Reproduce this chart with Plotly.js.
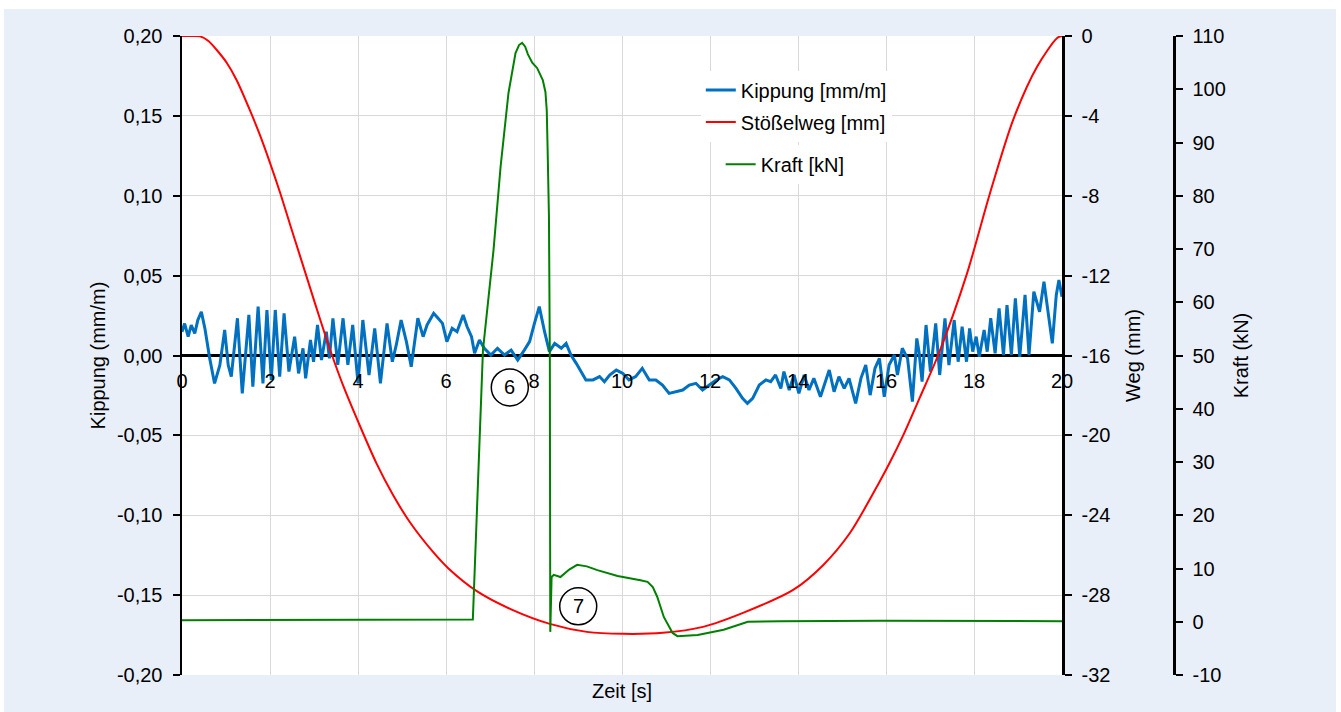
<!DOCTYPE html>
<html><head><meta charset="utf-8">
<script src="https://cdn.plot.ly/plotly-3.0.1.min.js"></script>
<style>html,body{margin:0;padding:0;background:#fff;} #chart{position:absolute;left:4px;top:9px;width:1332px;height:703px;}</style>
</head><body><div id="chart"></div>
<script>
// Zeit [s] / Kippung [mm/m]
const kippungT = [0,0.06,0.14,0.21,0.29,0.36,0.44,0.52,0.63,0.74,0.86,0.97,1.05,1.12,1.26,1.37,1.52,1.61,1.73,1.84,1.93,2.03,2.12,2.22,2.32,2.43,2.56,2.65,2.75,2.81,2.92,2.99,3.08,3.17,3.28,
3.35,3.43,3.54,3.66,3.77,3.88,4.00,4.11,4.25,4.38,4.51,4.66,4.78,4.87,4.98,5.10,5.21,5.36,5.48,5.57,5.72,5.82,5.92,6.02,6.14,6.25,6.39,6.48,6.58,6.65,
6.76,6.87,7.02,7.17,7.33,7.48,7.63,7.78,7.90,8.01,8.12,8.24,8.35,8.47,8.62,8.73,8.84,8.96,9.07,9.18,9.34,9.49,9.60,9.72,9.87,10.02,
10.16,10.31,10.46,10.62,10.77,10.92,11.07,11.23,11.38,11.53,11.68,11.83,11.98,12.14,12.29,12.44,12.59,12.74,12.85,12.97,13.12,13.27,
13.38,13.49,13.61,13.68,13.80,13.91,14.02,14.14,14.25,14.36,14.51,14.71,14.82,14.93,15.05,15.16,15.31,15.43,15.54,15.64,15.75,15.85,15.96,16.07,16.19,16.26,16.37,16.49,16.60,16.70,
16.75,16.82,16.91,17.01,17.13,17.22,17.34,17.43,17.55,17.64,17.73,17.83,17.90,17.97,18.05,18.12,18.23,18.30,18.38,18.48,18.57,18.67,18.75,18.85,18.94,19.04,19.16,19.25,19.36,19.49,19.59,19.69,19.78,19.87,19.93,20.0];
const kippungV = [0.0149,0.020,0.0118,0.019,0.0139,0.0222,0.0274,0.017,-0.0018,-0.0175,-0.006,0.016,-0.006,-0.0132,0.0233,-0.0237,0.0254,-0.0195,0.0306,-0.0174,0.0285,-0.0153,0.0285,-0.0132,0.0264,-0.0101,0.0118,-0.0112,0.0045,-0.0143,0.0097,-0.0039,0.0191,-0.0028,0.0149,
-0.0018,0.0233,-0.0059,0.0233,-0.0059,0.0191,-0.0174,0.0222,-0.0122,0.017,-0.0174,0.0201,-0.0039,0.0066,0.0222,0.0087,-0.007,0.0233,0.0118,0.0191,0.0264,0.0233,0.0201,0.0087,0.017,0.0149,0.0254,0.018,0.0118,0.0014,
0.0097,0.0045,0.0003,0.0045,0.0003,0.0034,-0.0028,0.0034,0.0087,0.0201,0.0306,0.0149,0.0024,0.0076,0.0045,0.0076,0.0003,-0.0049,-0.0101,-0.0153,-0.0153,-0.0132,-0.0164,-0.0122,-0.0091,-0.0112,
-0.0153,-0.0132,-0.008,-0.0153,-0.0153,-0.0185,-0.0237,-0.0227,-0.0216,-0.0185,-0.0174,-0.0216,-0.0185,-0.0153,-0.0132,-0.0153,-0.0206,-0.0268,-0.03,-0.0268,-0.0185,-0.0153,
-0.0164,-0.0122,-0.0206,-0.0101,-0.0216,-0.0122,-0.0237,-0.0122,-0.0216,-0.0143,-0.0258,-0.0091,-0.0227,-0.0132,-0.0206,-0.0143,-0.03,-0.0143,-0.006,-0.0248,-0.008,-0.0018,-0.0258,-0.006,0.0003,-0.0122,0.0045,-0.0018,-0.0289,0.0107,
0.0024,-0.0164,0.0191,-0.0101,0.0201,-0.0122,0.0233,-0.006,0.0222,-0.0039,0.018,-0.0039,0.017,0.0024,0.0118,-0.0008,0.016,0.0024,0.0233,0.0013,0.0295,0.0003,0.0316,0.0003,0.0358,-0.0008,0.0379,0.0003,0.04,0.0274,0.0462,0.0274,0.0076,0.0379,0.0473,0.0368];

// Stößelweg [mm]
const wegT = [0,0.2,0.41,0.6,0.79,1.02,1.24,1.55,1.77,2.0,2.23,2.45,2.68,2.91,3.14,3.38,3.67,4.01,4.42,4.8,5.18,5.71,6.05,6.70,7.52,8.36,9.2,10.02,10.93,11.84,12.75,13.89,14.57,15.18,15.86,16.09,16.39,16.77,17.2,17.84,18.36,18.89,19.43,19.89,20];
const wegV = [0,0,-0.02,-0.25,-0.7,-1.35,-2.2,-3.75,-4.95,-6.35,-7.85,-9.4,-11.0,-12.6,-14.2,-15.8,-17.55,-19.35,-21.4,-23.0,-24.35,-25.85,-26.65,-27.8,-28.75,-29.44,-29.84,-29.94,-29.89,-29.59,-28.89,-27.74,-26.5,-24.89,-22.3,-21.35,-20.0,-18.1,-15.9,-11.9,-7.9,-4.2,-1.55,-0.1,0];

// Kraft [kN]
const kraftT = [0,3,6.61,6.84,7.08,7.24,7.42,7.58,7.66,7.73,7.80,7.86,7.96,8.07,8.2,8.26,8.29,8.31,8.34,8.36,8.37,8.40,8.45,8.6,8.8,8.98,9.2,9.44,9.9,10.42,10.58,10.7,10.8,10.95,11.15,11.26,11.72,12.31,12.86,13.6,15.88,20];
const kraftV = [0.3,0.3,0.4,51,69.8,85.4,99.3,106.8,108.3,108.7,108.0,106.6,105.0,104,101.7,99.5,96,88.6,76,49.5,-1.9,8.4,8.8,8.4,9.8,10.7,10.4,9.7,8.6,7.8,7.5,6.5,4.7,0.9,-2.1,-2.7,-2.5,-1.5,0.0,0.1,0.2,0.1];

const xTickVals = [0,2,4,6,8,10,12,14,16,18,20];
const xTickText = ['0','2','4','6','8','10','12','14','16','18','20'];
const kippTickVals = [-0.2,-0.15,-0.1,-0.05,0,0.05,0.1,0.15,0.2];
const kippTickText = ['-0,20','-0,15','-0,10','-0,05','0,00','0,05','0,10','0,15','0,20'];
const wegTickVals = [-32,-28,-24,-20,-16,-12,-8,-4,0];
const wegTickText = ['-32','-28','-24','-20','-16','-12','-8','-4','0'];
const kraftTickVals = [-10,0,10,20,30,40,50,60,70,80,90,100,110];
const kraftTickText = ['-10','0','10','20','30','40','50','60','70','80','90','100','110'];

const FONT = 'Liberation Sans, Arial, sans-serif';
const axisBase = {showline:true, linecolor:'#000', linewidth:2.5, ticks:'outside', ticklen:7, tickwidth:2, tickcolor:'#000', tickfont:{size:20,color:'#000'}, ticklabelstandoff:6};

const traces = [
 {x:kippungT, y:kippungV, type:'scatter', mode:'lines', name:'Kippung [mm/m]', yaxis:'y', line:{color:'#0070C0', width:3}, legend:'legend', legendgroup:'a'},
 {x:wegT, y:wegV, type:'scatter', mode:'lines', name:'Stößelweg [mm]', yaxis:'y2', line:{color:'#FF0000', width:2, shape:'spline', smoothing:0.8}, legend:'legend', legendgroup:'b'},
 {x:kraftT, y:kraftV, type:'scatter', mode:'lines', name:'Kraft [kN]', yaxis:'y3', line:{color:'#008000', width:2}, legend:'legend2'}
];

const layout = {
 width:1332, height:703,
 paper_bgcolor:'#E9EFF9', plot_bgcolor:'#FFFFFF',
 margin:{l:178, r:162, t:27, b:37, pad:0},
 font:{family:FONT, size:20, color:'#000'},
 showlegend:true,
 xaxis:{domain:[0,880/992], range:[0,20], tickmode:'array', tickvals:xTickVals, ticktext:xTickText, anchor:'free', position:0.5,
   showgrid:true, gridcolor:'#D9D9D9', gridwidth:1, zeroline:false, showline:false, ticks:'', ticklabelstandoff:11, tickfont:{size:20,color:'#000'}},
 yaxis:Object.assign({}, axisBase, {range:[-0.2,0.2], tickmode:'array', tickvals:kippTickVals, ticktext:kippTickText,
   showgrid:true, gridcolor:'#D9D9D9', gridwidth:1, zeroline:true, zerolinecolor:'#000', zerolinewidth:2.5,
   title:{text:'Kippung (mm/m)', font:{size:20}, standoff:6}}),
 yaxis2:Object.assign({}, axisBase, {range:[-32,0], overlaying:'y', side:'right', anchor:'x', tickmode:'array', tickvals:wegTickVals, ticktext:wegTickText,
   showgrid:false, zeroline:false, title:{text:'Weg (mm)', font:{size:20}, standoff:17}}),
 yaxis3:Object.assign({}, axisBase, {range:[-10,110], overlaying:'y', side:'right', anchor:'free', position:1, tickmode:'array', tickvals:kraftTickVals, ticktext:kraftTickText,
   showgrid:false, zeroline:false, title:{text:'Kraft (kN)', font:{size:20}, standoff:8}}),
 legend:{x:0.523, xanchor:'left', y:0.946, yanchor:'top', bgcolor:'#FFFFFF', borderwidth:0, traceorder:'grouped', tracegroupgap:3, font:{size:20,color:'#000'}},
 legend2:{x:0.543, xanchor:'left', y:0.83, yanchor:'top', bgcolor:'#FFFFFF', borderwidth:0, font:{size:20,color:'#000'}},
 shapes:[
  {type:'circle', xref:'x', yref:'y', xsizemode:'pixel', ysizemode:'pixel', xanchor:7.45, yanchor:-0.020, x0:-18.5, x1:18.5, y0:-18.5, y1:18.5, line:{color:'#000', width:1.5}},
  {type:'circle', xref:'x', yref:'y', xsizemode:'pixel', ysizemode:'pixel', xanchor:9.005, yanchor:-0.157, x0:-18.5, x1:18.5, y0:-18.5, y1:18.5, line:{color:'#000', width:1.5}}
 ],
 annotations:[
  {x:7.45, y:-0.020, xref:'x', yref:'y', text:'6', showarrow:false, font:{size:20,color:'#000'}},
  {x:9.005, y:-0.157, xref:'x', yref:'y', text:'7', showarrow:false, font:{size:20,color:'#000'}},
  {x:0.5, y:0, xref:'x domain', yref:'paper', yanchor:'top', yshift:-3, text:'Zeit [s]', showarrow:false, font:{size:20,color:'#000'}}
 ]
};

Plotly.newPlot('chart', traces, layout, {displayModeBar:false, staticPlot:true});
</script></body></html>
